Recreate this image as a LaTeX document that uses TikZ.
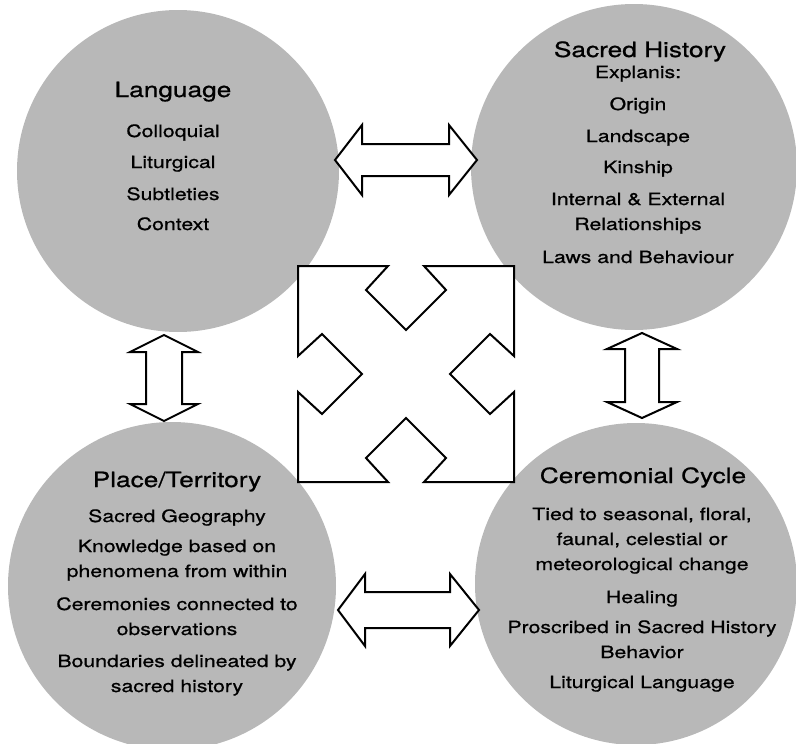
\documentclass[tikz,border=0pt]{standalone}
\usepackage{fontspec}
\newfontfamily\hv[FakeStretch=1.25,FakeBold=0.8]{TeX Gyre Heros}
\begin{document}
\begin{tikzpicture}[x=1pt,y=-1pt,
  zone/.style={circle, fill=black!28, inner sep=0pt},
  ttl/.style={font=\hv\fontsize{21}{21}\selectfont, anchor=base},
  itm/.style={font=\hv\fontsize{17}{17}\selectfont, anchor=base},
  link/.style={draw=black, line width=2pt, fill=white, line join=miter}]
\useasboundingbox (0,0) rectangle (796,744);
\clip (0,0) rectangle (796,744);
% circles
\node[zone, minimum size=322pt] (lang) at (178,171) {};
\node[zone, minimum size=326pt] (hist) at (634,167) {};
\node[zone, minimum size=328pt] (place) at (172,586) {};
\node[zone, minimum size=322pt] (cer) at (636,584) {};
% double arrows
\draw[link] (335,160) -- (362,125) -- (362,144) -- (449,144) -- (449,125) -- (477,160)
  -- (449,195) -- (449,176) -- (362,176) -- (362,195) -- cycle;
\draw[link] (338,610) -- (365,574) -- (365,592) -- (450,592) -- (450,574) -- (479,610)
  -- (450,646) -- (450,628) -- (365,628) -- (365,646) -- cycle;
\draw[link] (164,335) -- (198,352) -- (182,352) -- (182,404) -- (198,404) -- (164,421)
  -- (130,404) -- (146,404) -- (146,352) -- (130,352) -- cycle;
\draw[link] (642,333) -- (677,349) -- (659,349) -- (659,402) -- (677,402) -- (642,418)
  -- (607,402) -- (625,402) -- (625,349) -- (607,349) -- cycle;
% central four-way arrow
\draw[link, shift={(406,374)}]
  (-108,-108) -- (-18,-108) -- (-40,-84) -- (0,-44) -- (40,-84) -- (18,-108)
  -- (108,-108) -- (108,-18) -- (84,-40) -- (44,0) -- (84,40) -- (108,18)
  -- (108,108) -- (18,108) -- (40,84) -- (0,44) -- (-40,84) -- (-18,108)
  -- (-108,108) -- (-108,18) -- (-84,40) -- (-44,0) -- (-84,-40) -- (-108,-18) -- cycle;
% texts
\node[ttl] (langT) at (173,97) {Language};
\foreach \t/\y [count=\i] in {Colloquial/137, Liturgical/168, Subtleties/200, Context/230}
  \node[itm] (lang\i) at (173,\y) {\t};
\node[ttl] (histT) at (640,57) {Sacred History};
\foreach \t/\y [count=\i] in {Explanis:/78, Origin/110, Landscape/142, Kinship/173,
  Internal \& External/205, Relationships/230, Laws and Behaviour/263}
  \node[itm] (hist\i) at (638,\y) {\t};
\node[ttl] (placeT) at (177,487) {Place/Territory};
\foreach \t/\y [count=\i] in {Sacred Geography/522, Knowledge based on/552,
  phenomena from within/577, Ceremonies connected to/610, observations/635,
  Boundaries delineated by/667, sacred history/692}
  \node[itm] (place\i) at (177,\y) {\t};
\node[ttl] (cerT) at (643,483) {Ceremonial Cycle};
\foreach \t/\y [count=\i] in {{Tied to seasonal, floral,}/520, {faunal, celestial or}/545,
  meteorological change/570, Healing/603, Proscribed in Sacred History/633,
  Behavior/658, Liturgical Language/688}
  \node[itm] (cer\i) at (642,\y) {\t};
\end{tikzpicture}
\end{document}
